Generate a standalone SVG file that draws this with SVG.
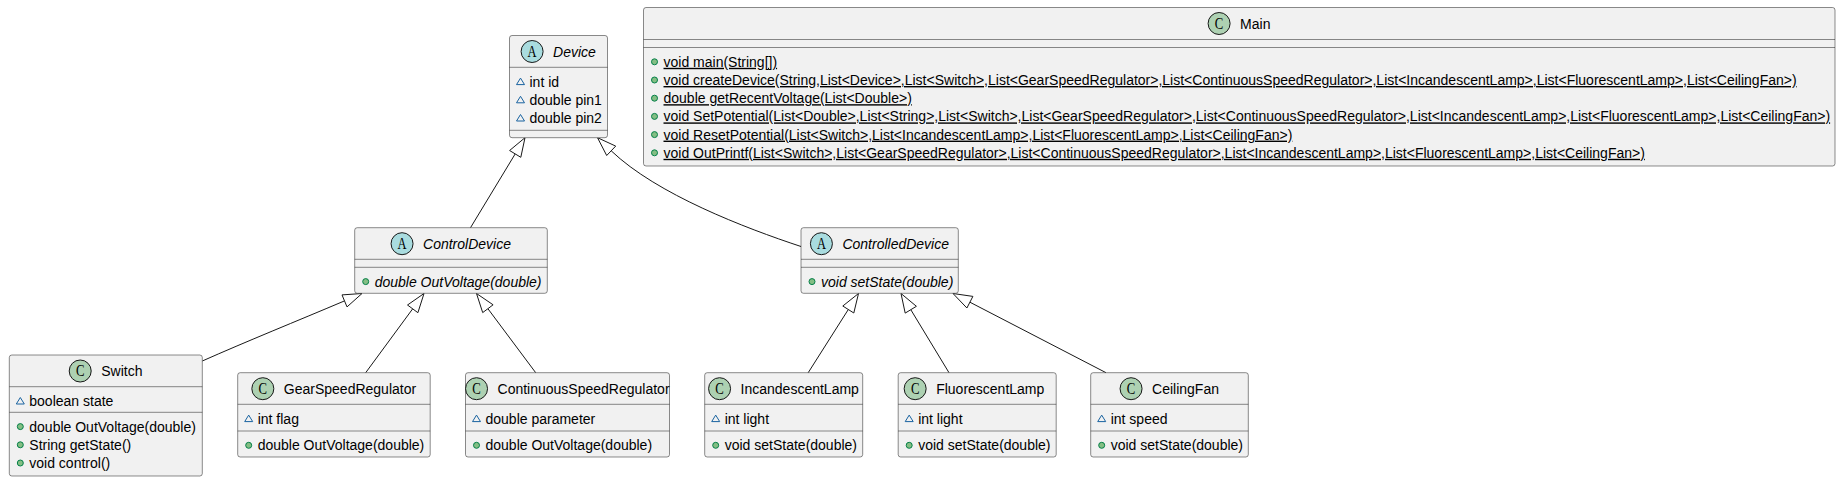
<svg xmlns="http://www.w3.org/2000/svg" width="1841" height="482" viewBox="0 0 1841 482">
<style>
.box{fill:#F1F1F1;stroke:#181818;stroke-width:0.5}
.sep{stroke:#181818;stroke-width:0.5}
.t{font-family:"Liberation Sans",Arial,sans-serif;font-size:14px;fill:#000000}
.it{font-style:italic}
.u{text-decoration:underline;text-decoration-skip-ink:none}
.ic{fill:#ADD1B2;stroke:#181818;stroke-width:1}
.ia{fill:#A9DCDF;stroke:#181818;stroke-width:1}
.il{font-family:"Liberation Serif","DejaVu Serif",serif;font-size:16px;fill:#000000;text-anchor:middle}
.pub{fill:#84BE84;stroke:#038048;stroke-width:1}
.pkg{fill:none;stroke:#1963A0;stroke-width:1}
.edge{fill:none;stroke:#181818;stroke-width:1}
.head{fill:#FFFFFF;stroke:#181818;stroke-width:1}
</style>
<rect x="0" y="0" width="1841" height="482" fill="#FFFFFF"/>

<g id="connectors">
  <path class="edge" d="M470.5,227.7 L515.2,153.9"/>
  <polygon class="head" points="525,137.7 520.8,157.3 509.6,150.5"/>
  <path class="edge" d="M801,246.5 C745,228 656.7,194.3 611.2,150.8"/>
  <polygon class="head" points="597.5,137.7 615.7,146.1 606.7,155.5"/>
  <path class="edge" d="M202.3,361 C245,342 298.5,320.4 344.5,300.9"/>
  <polygon class="head" points="362,293.5 347,306.9 342,294.9"/>
  <path class="edge" d="M365.7,372.7 L412.7,308.8"/>
  <polygon class="head" points="424,293.5 417.9,312.7 407.5,305"/>
  <path class="edge" d="M535.7,372.7 L487.9,308.7"/>
  <polygon class="head" points="476.5,293.5 493.1,304.8 482.7,312.6"/>
  <path class="edge" d="M808.2,372.7 L848.3,309.5"/>
  <polygon class="head" points="858.5,293.5 853.8,313 842.8,306"/>
  <path class="edge" d="M949,372.7 L910.8,309.7"/>
  <polygon class="head" points="901,293.5 916.4,306.3 905.2,313.1"/>
  <path class="edge" d="M1106,372.7 L969.9,302.2"/>
  <polygon class="head" points="953,293.5 972.9,296.4 966.9,308"/>
</g>

<g id="Main">
  <rect class="box" x="643.5" y="7.5" width="1191.5" height="158.5" rx="2.5"/>
  <line class="sep" x1="643.5" y1="39.5" x2="1835" y2="39.5"/>
  <line class="sep" x1="643.5" y1="47.5" x2="1835" y2="47.5"/>
  <circle class="ic" cx="1219.1" cy="23.5" r="11"/>
  <text class="il" x="1219.1" y="28.8" textLength="8.5" lengthAdjust="spacingAndGlyphs">C</text>
  <text class="t" x="1240.1" y="28.5">Main</text>
  <circle class="pub" cx="654.5" cy="61.8" r="3"/>
  <text class="t u" x="663.5" y="66.8">void main(String[])</text>
  <circle class="pub" cx="654.5" cy="80" r="3"/>
  <text class="t u" x="663.5" y="85">void createDevice(String,List&lt;Device&gt;,List&lt;Switch&gt;,List&lt;GearSpeedRegulator&gt;,List&lt;ContinuousSpeedRegulator&gt;,List&lt;IncandescentLamp&gt;,List&lt;FluorescentLamp&gt;,List&lt;CeilingFan&gt;)</text>
  <circle class="pub" cx="654.5" cy="98.2" r="3"/>
  <text class="t u" x="663.5" y="103.2">double getRecentVoltage(List&lt;Double&gt;)</text>
  <circle class="pub" cx="654.5" cy="116.4" r="3"/>
  <text class="t u" x="663.5" y="121.4">void SetPotential(List&lt;Double&gt;,List&lt;String&gt;,List&lt;Switch&gt;,List&lt;GearSpeedRegulator&gt;,List&lt;ContinuousSpeedRegulator&gt;,List&lt;IncandescentLamp&gt;,List&lt;FluorescentLamp&gt;,List&lt;CeilingFan&gt;)</text>
  <circle class="pub" cx="654.5" cy="134.6" r="3"/>
  <text class="t u" x="663.5" y="139.6">void ResetPotential(List&lt;Switch&gt;,List&lt;IncandescentLamp&gt;,List&lt;FluorescentLamp&gt;,List&lt;CeilingFan&gt;)</text>
  <circle class="pub" cx="654.5" cy="152.8" r="3"/>
  <text class="t u" x="663.5" y="157.8">void OutPrintf(List&lt;Switch&gt;,List&lt;GearSpeedRegulator&gt;,List&lt;ContinuousSpeedRegulator&gt;,List&lt;IncandescentLamp&gt;,List&lt;FluorescentLamp&gt;,List&lt;CeilingFan&gt;)</text>
</g>

<g id="Device">
  <rect class="box" x="509.5" y="35.5" width="98" height="102.2" rx="2.5"/>
  <line class="sep" x1="509.5" y1="67.3" x2="607.5" y2="67.3"/>
  <line class="sep" x1="509.5" y1="130.3" x2="607.5" y2="130.3"/>
  <circle class="ia" cx="532.1" cy="51.5" r="11"/>
  <text class="il" x="532.1" y="56.8" textLength="9" lengthAdjust="spacingAndGlyphs">A</text>
  <text class="t it" x="553.1" y="56.5">Device</text>
  <path class="pkg" d="M516.5,84.6 L524.5,84.6 L520.5,78.1 Z"/>
  <text class="t" x="529.5" y="86.6">int id</text>
  <path class="pkg" d="M516.5,102.8 L524.5,102.8 L520.5,96.3 Z"/>
  <text class="t" x="529.5" y="104.8">double pin1</text>
  <path class="pkg" d="M516.5,121 L524.5,121 L520.5,114.5 Z"/>
  <text class="t" x="529.5" y="123">double pin2</text>
</g>

<g id="ControlDevice">
  <rect class="box" x="354.7" y="227.7" width="192.6" height="65.6" rx="2.5"/>
  <line class="sep" x1="354.7" y1="259.3" x2="547.3" y2="259.3"/>
  <line class="sep" x1="354.7" y1="267.3" x2="547.3" y2="267.3"/>
  <circle class="ia" cx="402.05" cy="243.7" r="11"/>
  <text class="il" x="402.05" y="249" textLength="9" lengthAdjust="spacingAndGlyphs">A</text>
  <text class="t it" x="423.05" y="248.7">ControlDevice</text>
  <circle class="pub" cx="365.7" cy="281.6" r="3"/>
  <text class="t it" x="374.7" y="286.6">double OutVoltage(double)</text>
</g>

<g id="ControlledDevice">
  <rect class="box" x="801" y="227.7" width="157.3" height="65.6" rx="2.5"/>
  <line class="sep" x1="801" y1="259.3" x2="958.3" y2="259.3"/>
  <line class="sep" x1="801" y1="267.3" x2="958.3" y2="267.3"/>
  <circle class="ia" cx="821.4" cy="243.7" r="11"/>
  <text class="il" x="821.4" y="249" textLength="9" lengthAdjust="spacingAndGlyphs">A</text>
  <text class="t it" x="842.4" y="248.7">ControlledDevice</text>
  <circle class="pub" cx="812" cy="281.6" r="3"/>
  <text class="t it" x="821" y="286.6">void setState(double)</text>
</g>

<g id="Switch">
  <rect class="box" x="9.3" y="355" width="193" height="121" rx="2.5"/>
  <line class="sep" x1="9.3" y1="386.7" x2="202.3" y2="386.7"/>
  <line class="sep" x1="9.3" y1="412.3" x2="202.3" y2="412.3"/>
  <circle class="ic" cx="80.2" cy="371" r="11"/>
  <text class="il" x="80.2" y="376.3" textLength="8.5" lengthAdjust="spacingAndGlyphs">C</text>
  <text class="t" x="101.2" y="376">Switch</text>
  <path class="pkg" d="M16.3,404 L24.3,404 L20.3,397.5 Z"/>
  <text class="t" x="29.3" y="406">boolean state</text>
  <circle class="pub" cx="20.3" cy="426.6" r="3"/>
  <text class="t" x="29.3" y="431.6">double OutVoltage(double)</text>
  <circle class="pub" cx="20.3" cy="444.8" r="3"/>
  <text class="t" x="29.3" y="449.8">String getState()</text>
  <circle class="pub" cx="20.3" cy="463" r="3"/>
  <text class="t" x="29.3" y="468">void control()</text>
</g>

<g id="GearSpeedRegulator">
  <rect class="box" x="237.7" y="372.7" width="192.5" height="84.3" rx="2.5"/>
  <line class="sep" x1="237.7" y1="404.3" x2="430.2" y2="404.3"/>
  <line class="sep" x1="237.7" y1="431" x2="430.2" y2="431"/>
  <circle class="ic" cx="262.83" cy="388.7" r="11"/>
  <text class="il" x="262.83" y="394" textLength="8.5" lengthAdjust="spacingAndGlyphs">C</text>
  <text class="t" x="283.83" y="393.7">GearSpeedRegulator</text>
  <path class="pkg" d="M244.7,421.6 L252.7,421.6 L248.7,415.1 Z"/>
  <text class="t" x="257.7" y="423.6">int flag</text>
  <circle class="pub" cx="248.7" cy="445.3" r="3"/>
  <text class="t" x="257.7" y="450.3">double OutVoltage(double)</text>
</g>

<g id="ContinuousSpeedRegulator">
  <rect class="box" x="465.5" y="372.7" width="204" height="84.3" rx="2.5"/>
  <line class="sep" x1="465.5" y1="404.3" x2="669.5" y2="404.3"/>
  <line class="sep" x1="465.5" y1="431" x2="669.5" y2="431"/>
  <circle class="ic" cx="476.54" cy="388.7" r="11"/>
  <text class="il" x="476.54" y="394" textLength="8.5" lengthAdjust="spacingAndGlyphs">C</text>
  <text class="t" x="497.54" y="393.7">ContinuousSpeedRegulator</text>
  <path class="pkg" d="M472.5,421.6 L480.5,421.6 L476.5,415.1 Z"/>
  <text class="t" x="485.5" y="423.6">double parameter</text>
  <circle class="pub" cx="476.5" cy="445.3" r="3"/>
  <text class="t" x="485.5" y="450.3">double OutVoltage(double)</text>
</g>

<g id="IncandescentLamp">
  <rect class="box" x="704.7" y="372.7" width="158" height="84.3" rx="2.5"/>
  <line class="sep" x1="704.7" y1="404.3" x2="862.7" y2="404.3"/>
  <line class="sep" x1="704.7" y1="431" x2="862.7" y2="431"/>
  <circle class="ic" cx="719.58" cy="388.7" r="11"/>
  <text class="il" x="719.58" y="394" textLength="8.5" lengthAdjust="spacingAndGlyphs">C</text>
  <text class="t" x="740.58" y="393.7">IncandescentLamp</text>
  <path class="pkg" d="M711.7,421.6 L719.7,421.6 L715.7,415.1 Z"/>
  <text class="t" x="724.7" y="423.6">int light</text>
  <circle class="pub" cx="715.7" cy="445.3" r="3"/>
  <text class="t" x="724.7" y="450.3">void setState(double)</text>
</g>

<g id="FluorescentLamp">
  <rect class="box" x="898.2" y="372.7" width="158" height="84.3" rx="2.5"/>
  <line class="sep" x1="898.2" y1="404.3" x2="1056.2" y2="404.3"/>
  <line class="sep" x1="898.2" y1="431" x2="1056.2" y2="431"/>
  <circle class="ic" cx="915.15" cy="388.7" r="11"/>
  <text class="il" x="915.15" y="394" textLength="8.5" lengthAdjust="spacingAndGlyphs">C</text>
  <text class="t" x="936.15" y="393.7">FluorescentLamp</text>
  <path class="pkg" d="M905.2,421.6 L913.2,421.6 L909.2,415.1 Z"/>
  <text class="t" x="918.2" y="423.6">int light</text>
  <circle class="pub" cx="909.2" cy="445.3" r="3"/>
  <text class="t" x="918.2" y="450.3">void setState(double)</text>
</g>

<g id="CeilingFan">
  <rect class="box" x="1090.7" y="372.7" width="157.6" height="84.3" rx="2.5"/>
  <line class="sep" x1="1090.7" y1="404.3" x2="1248.3" y2="404.3"/>
  <line class="sep" x1="1090.7" y1="431" x2="1248.3" y2="431"/>
  <circle class="ic" cx="1131.06" cy="388.7" r="11"/>
  <text class="il" x="1131.06" y="394" textLength="8.5" lengthAdjust="spacingAndGlyphs">C</text>
  <text class="t" x="1152.06" y="393.7">CeilingFan</text>
  <path class="pkg" d="M1097.7,421.6 L1105.7,421.6 L1101.7,415.1 Z"/>
  <text class="t" x="1110.7" y="423.6">int speed</text>
  <circle class="pub" cx="1101.7" cy="445.3" r="3"/>
  <text class="t" x="1110.7" y="450.3">void setState(double)</text>
</g>
</svg>
